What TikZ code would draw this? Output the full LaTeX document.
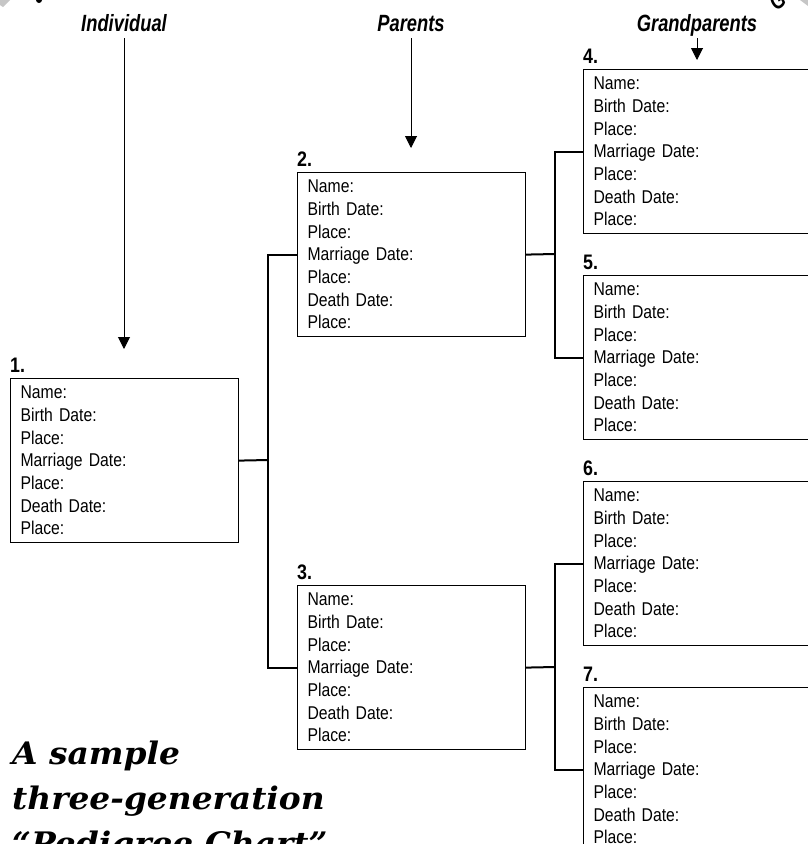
\documentclass[tikz,border=0pt]{standalone}
\usepackage{fontspec}
\setmainfont{Liberation Sans}[FakeStretch=0.85]
\newfontfamily\headfont{Liberation Sans}[FakeStretch=0.78]
\newfontfamily\numfont{Liberation Sans}[FakeStretch=0.85]
\newfontfamily\titlefont{DejaVu Serif}[FakeStretch=1.06]
\usetikzlibrary{arrows.meta}
\newcommand\entrylines{Name:\\Birth Date:\\Place:\\Marriage Date:\\Place:\\Death Date:\\Place:}
\begin{document}
\begin{tikzpicture}[x=1pt,y=-1pt,
  person/.style={draw, line width=1.2pt, minimum width=228pt, minimum height=164pt,
    anchor=north west, inner sep=0pt, align=left, text width=208pt,
    font=\fontsize{18.5}{22.67}\selectfont},
  numlbl/.style={font=\numfont\bfseries\fontsize{21}{24}\selectfont, anchor=base west, inner sep=0pt},
  hdr/.style={font=\headfont\bfseries\itshape\fontsize{23.5}{28}\selectfont, anchor=base,
    text depth=0pt, inner xsep=0pt, inner ysep=7pt},
  arr/.style={line width=1pt, -{Triangle[length=12pt,width=12pt]}},
  conn/.style={line width=2pt},
  ttl/.style={font=\titlefont\bfseries\itshape\fontsize{31}{34}\selectfont, anchor=base west, inner sep=0pt}]
\path[fill=white,use as bounding box] (0,0) rectangle (808,844);

% boxes
\node[person] (b1) at (10,378) {\entrylines};
\node[person] (b2) at (297,172) {\entrylines};
\node[person] (b3) at (297,585) {\entrylines};
\node[person] (b4) at (583,69) {\entrylines};
\node[person] (b5) at (583,275) {\entrylines};
\node[person] (b6) at (583,481) {\entrylines};
\node[person] (b7) at (583,687) {\entrylines};

% numbers
\node[numlbl] (n1) at ([yshift=5.5pt]b1.north west) {1.};
\node[numlbl] (n2) at ([yshift=5.5pt]b2.north west) {2.};
\node[numlbl] (n3) at ([yshift=5.5pt]b3.north west) {3.};
\node[numlbl] (n4) at ([yshift=5.5pt]b4.north west) {4.};
\node[numlbl] (n5) at ([yshift=5.5pt]b5.north west) {5.};
\node[numlbl] (n6) at ([yshift=5.5pt]b6.north west) {6.};
\node[numlbl] (n7) at ([yshift=5.5pt]b7.north west) {7.};

% connectors
\coordinate (j1) at (268,460);
\coordinate (j2) at (555,254);
\coordinate (j3) at (555,667);
\draw[conn] (b1.east) -- (j1);
\draw[conn] (b2.west) -| (j1) |- (b3.west);
\draw[conn] (b2.east) -- (j2);
\draw[conn] (b4.west) -| (j2) |- (b5.west);
\draw[conn] (b3.east) -- (j3);
\draw[conn] (b6.west) -| (j3) |- (b7.west);

% headers and arrows
\node[hdr] (h1) at (124,31) {Individual};
\node[hdr] (h2) at (411,31) {Parents};
\node[hdr] (h3) at (697,31) {Grandparents};
\coordinate (t1) at (124,349);
\coordinate (t2) at (411,148);
\coordinate (t3) at (697,60);
\draw[arr] (h1.south) -- (t1);
\draw[arr] (h2.south) -- (t2);
\draw[arr] (h3.south) -- (t3);

% title
\node[ttl] (ti1) at (12,764) {A sample};
\node[ttl] (ti2) at (12,809) {three-generation};
\node[ttl] (ti3) at (12,854) {“Pedigree Chart”};

% cropped fragments at the top corners
\fill[gray!45] (0,0) -- (10,0) -- (3,7) -- (0,5) -- cycle;
\fill (39,0) circle (3);
\node[font=\headfont\bfseries\itshape\fontsize{23.5}{28}\selectfont, anchor=base west, rotate=35, inner sep=0pt] (g) at (776,12) {G};
\fill[gray!45] (800,0) -- (808,0) -- (808,6) -- cycle;
\end{tikzpicture}
\end{document}
